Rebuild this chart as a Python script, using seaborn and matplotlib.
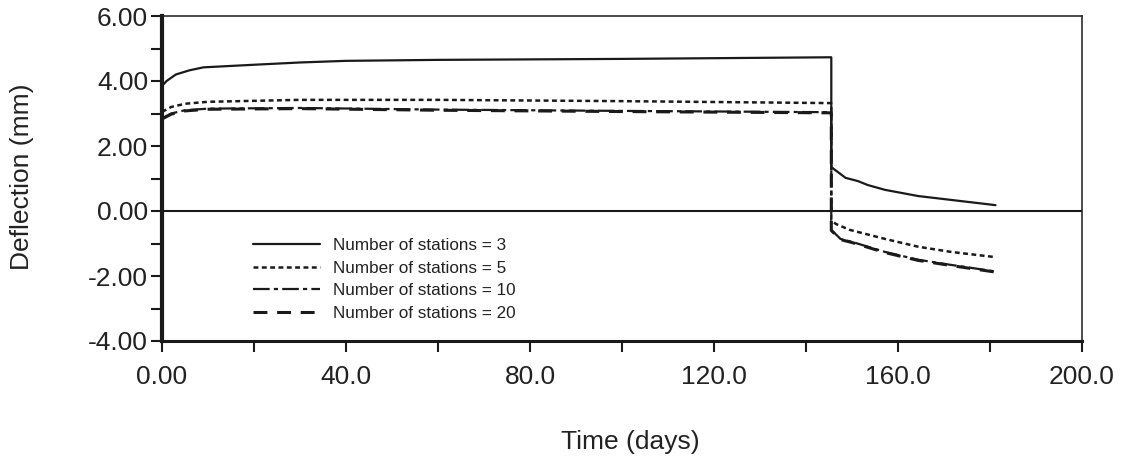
import numpy as np
import pandas as pd
import matplotlib
matplotlib.use("Agg")
import matplotlib.pyplot as plt
import seaborn as sns

# ---- data ----
t_n3 = [0, 1, 3, 6, 9, 20, 30, 40, 60, 100, 145.5,
        145.5, 148.6, 151.3, 153.4, 157.2, 164.4, 171.6, 181.2]
d_n3 = [3.85, 4.0, 4.2, 4.33, 4.42, 4.5, 4.57, 4.62, 4.65, 4.68, 4.73,
        1.35, 1.02, 0.92, 0.80, 0.65, 0.46, 0.34, 0.18]

t_n5 = [0, 2, 5, 10, 30, 60, 100, 145.5,
        145.5, 146.5, 149.5, 157.2, 164.4, 171.6, 181.2]
d_n5 = [3.05, 3.2, 3.3, 3.36, 3.42, 3.42, 3.38, 3.32,
        -0.28, -0.40, -0.58, -0.86, -1.10, -1.26, -1.42]

t_n10 = [0, 2, 5, 10, 30, 60, 100, 145.5,
         145.5, 147.5, 150, 157.2, 164.4, 171.6, 181.2]
d_n10 = [2.85, 3.0, 3.1, 3.15, 3.17, 3.12, 3.08, 3.04,
         -0.58, -0.86, -0.95, -1.26, -1.50, -1.66, -1.86]

t_n20 = [0, 2, 5, 10, 30, 60, 100, 145.5,
         145.5, 147.5, 150, 157.2, 164.4, 171.6, 181.2]
d_n20 = [2.83, 2.98, 3.08, 3.13, 3.15, 3.10, 3.06, 3.02,
         -0.60, -0.88, -0.97, -1.28, -1.52, -1.68, -1.88]

series_labels = ["Number of stations = 3", "Number of stations = 5",
                 "Number of stations = 10", "Number of stations = 20"]

x_major = [0, 40, 80, 120, 160, 200]
x_labels = ["0.00", "40.0", "80.0", "120.0", "160.0", "200.0"]
x_minor = [20, 60, 100, 140, 180]
y_major = [-4, -2, 0, 2, 4, 6]
y_labels = ["-4.00", "-2.00", "0.00", "2.00", "4.00", "6.00"]
y_minor = [-3, -1, 1, 3, 5]

# ---- plotting ----
sns.set_theme(style="white")
plt.rcParams['font.family'] = ['Liberation Sans', 'DejaVu Sans']
plt.rcParams['lines.scale_dashes'] = False

fig = plt.figure(figsize=(11.32, 4.62), dpi=100)
ax = fig.add_axes([162/1132, 1 - 341/462, 920/1132, 325/462])

styles = [
    dict(linestyle='-', linewidth=1.6),
    dict(dashes=(3.5, 2.5), linewidth=1.8),
    dict(dashes=(12, 3, 3, 3), linewidth=1.6),
    dict(dashes=(10, 7), linewidth=2.2),
]
all_t = [t_n3, t_n5, t_n10, t_n20]
all_d = [d_n3, d_n5, d_n10, d_n20]
for t, d, lab, st in zip(all_t, all_d, series_labels, styles):
    df = pd.DataFrame({"Time": t, "Deflection": d})
    sns.lineplot(data=df, x="Time", y="Deflection", ax=ax, color="#1a1a1a",
                 estimator=None, sort=False, label=lab, **st)

ax.axhline(0, color="#1a1a1a", linewidth=1.5, zorder=1)

ax.set_xlim(0, 200)
ax.set_ylim(-4, 6)
ax.set_xticks(x_major)
ax.set_xticklabels(x_labels)
ax.set_xticks(x_minor, minor=True)
ax.set_yticks(y_major)
ax.set_yticklabels(y_labels)
ax.set_yticks(y_minor, minor=True)

ax.tick_params(axis='both', which='both', direction='out', length=8,
               width=1.5, color="#1a1a1a", labelcolor="#222222",
               labelsize=19)
ax.tick_params(axis='y', which='both', left=True, pad=2)
ax.tick_params(axis='x', which='both', bottom=True, pad=9)

for side, lw in [('left', 3.0), ('bottom', 2.2), ('top', 1.1), ('right', 1.1)]:
    ax.spines[side].set_linewidth(lw)
    ax.spines[side].set_color("#1a1a1a")

ax.set_xlabel("Time (days)", fontsize=19, color="#222222")
ax.set_ylabel("Deflection (mm)", fontsize=19, color="#222222")
ax.xaxis.set_label_coords(0.509, -0.311)
ax.xaxis.label.set_va('center')
ax.yaxis.set_label_coords(-0.152, 0.505)
ax.yaxis.label.set_va('center')

leg = ax.legend(loc='upper left', bbox_to_anchor=(0.099, 0.318),
                frameon=False, fontsize=12.3, handlelength=3.9,
                handletextpad=0.76, labelspacing=0.46, borderpad=0,
                borderaxespad=0)
for txt in leg.get_texts():
    txt.set_color("#222222")

fig.savefig("out.png", dpi=100, facecolor="white")
